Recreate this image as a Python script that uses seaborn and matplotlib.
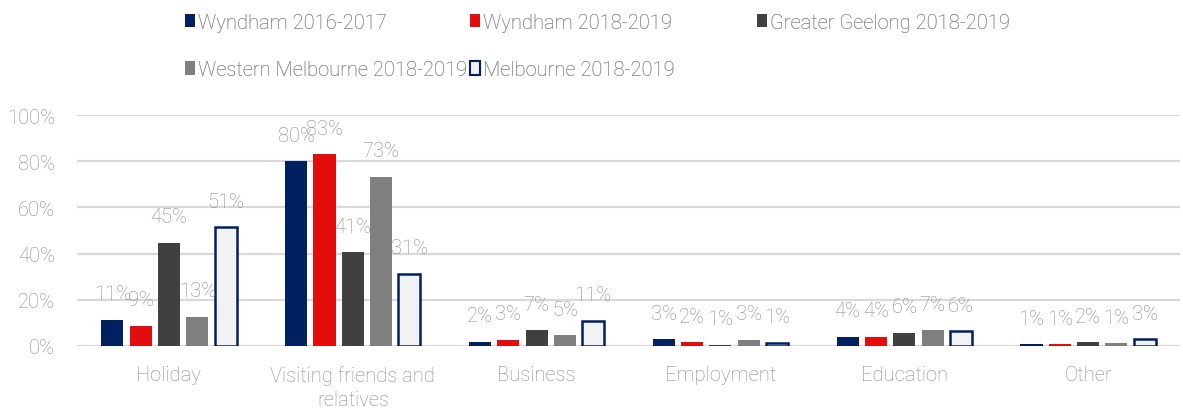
import seaborn as sns
import matplotlib.pyplot as plt
import pandas as pd
from matplotlib.patches import Patch

categories = ["Holiday", "Visiting friends and\nrelatives", "Business", "Employment", "Education", "Other"]
series = ["Wyndham 2016-2017", "Wyndham 2018-2019", "Greater Geelong 2018-2019",
          "Western Melbourne 2018-2019", "Melbourne 2018-2019"]
wyndham_1617 = [11.3, 80.0, 1.8, 2.9, 4.0, 0.7]
wyndham_1819 = [8.7, 83.0, 2.6, 1.6, 3.9, 0.7]
geelong_1819 = [44.6, 40.6, 6.8, 0.6, 5.8, 1.6]
west_melb_1819 = [12.6, 73.2, 4.6, 2.6, 6.8, 1.2]
melbourne_1819 = [51.4, 31.2, 10.9, 1.4, 6.3, 2.9]
yticks = [0, 20, 40, 60, 80, 100]

colors = ["#002060", "#E30D0D", "#404040", "#7F7F7F", "#F2F2F2"]
navy = "#002060"
txt = "#8A8A8A"

rows = []
for s, vals in zip(series, [wyndham_1617, wyndham_1819, geelong_1819, west_melb_1819, melbourne_1819]):
    for c, v in zip(categories, vals):
        rows.append({"category": c, "series": s, "value": v})
df = pd.DataFrame(rows)

sns.set_theme(style="white")
plt.rcParams["font.family"] = ["Roboto", "DejaVu Sans"]
plt.rcParams["font.weight"] = "light"
FS = 14.5

fig = plt.figure(figsize=(11.83, 4.10), dpi=100)
ax = fig.add_axes([0.0651, 0.1537, 0.9324, 0.5633])

sns.barplot(data=df, x="category", y="value", hue="series", order=categories,
            hue_order=series, palette=colors, width=0.77, gap=0.22,
            saturation=1, ax=ax, legend=False, zorder=3)

for i, cont in enumerate(ax.containers):
    for bar in cont:
        bar.set_linewidth(0)
        if i == 4:
            bar.set_edgecolor(navy)
            bar.set_linewidth(1.8)
        h = bar.get_height()
        ax.annotate(f"{h:.0f}%", (bar.get_x() + bar.get_width() / 2, h),
                    xytext=(0, 26), textcoords="offset pixels",
                    ha="center", va="center", fontsize=FS, color=txt,
                    fontweight="light", zorder=5)

ax.set_xlim(-0.5, 5.5)
ax.set_ylim(0, 100)
ax.set_yticks(yticks)
ax.set_yticklabels([f"{t}%" for t in yticks])
ax.yaxis.grid(True, color="#D9D9D9", linewidth=1.6)
ax.set_axisbelow(True)
for sp in ax.spines.values():
    sp.set_visible(False)
ax.tick_params(axis="y", length=0, pad=16, labelsize=FS, labelcolor=txt)
ax.tick_params(axis="x", length=0, pad=14, labelsize=FS, labelcolor=txt)
for lab in ax.get_xticklabels():
    lab.set_linespacing(1.32)
ax.set_xlabel("")
ax.set_ylabel("")

handles = []
for i, s in enumerate(series):
    if i == 4:
        handles.append(Patch(facecolor=colors[i], edgecolor=navy, linewidth=1.5, label=s))
    else:
        handles.append(Patch(facecolor=colors[i], edgecolor="none", label=s))

groups = [([handles[0], handles[3]], 0.1564), ([handles[1], handles[4]], 0.3973), ([handles[2]], 0.6399)]
for hs, x in groups:
    lg = fig.legend(handles=hs, loc="upper left", bbox_to_anchor=(x, 0.967),
                    frameon=False, fontsize=FS, handlelength=0.5, handleheight=0.65,
                    handletextpad=0.15, labelspacing=1.42, borderpad=0, borderaxespad=0)
    for t in lg.get_texts():
        t.set_color(txt)
        t.set_fontweight("light")
    fig.add_artist(lg)

fig.savefig("out.png", dpi=100)
